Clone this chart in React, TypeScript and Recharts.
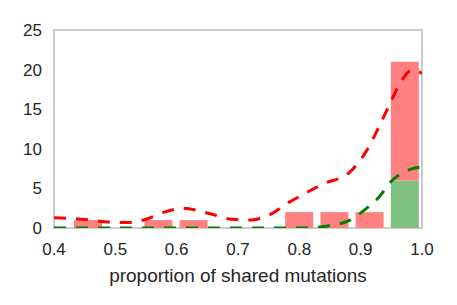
import {
    ComposedChart,
    Bar,
    Line,
    XAxis,
    YAxis,
    ReferenceArea
} from 'recharts';

// histogram bins (centers) and counts for each group
const binCenters = [0.4544, 0.5118, 0.5692, 0.6266, 0.684, 0.7414, 0.7988, 0.8563, 0.9137, 0.9711];
const greenCounts = [0, 0, 0, 0, 0, 0, 0, 0, 0, 6];
const redCounts = [1, 0, 1, 1, 0, 0, 2, 2, 2, 15]; // stacked above green

// density curves (scaled to counts)
const kdeX = [0.4, 0.43, 0.46, 0.49, 0.52, 0.55, 0.58, 0.61, 0.65, 0.69, 0.72, 0.75, 0.78, 0.81, 0.84, 0.88, 0.91, 0.93, 0.95, 0.965, 0.985, 1.0];
const redKde = [1.3, 1.2, 1.0, 0.75, 0.7, 1.1, 2.0, 2.5, 1.9, 1.1, 1.0, 1.6, 3.1, 4.4, 5.6, 6.9, 9.8, 12.8, 16.1, 18.4, 20.0, 19.5];
const greenKde = [0, 0, 0, 0, 0, 0, 0, 0, 0, 0, 0, 0, 0, 0, 0.2, 0.9, 2.5, 3.9, 5.9, 6.8, 7.5, 7.7];

const xTicks = [0.4, 0.5, 0.6, 0.7, 0.8, 0.9, 1.0];
const yTicks = [0, 5, 10, 15, 20, 25];

const bars = binCenters.map((x, i) => ({ bin: x.toFixed(4), green: greenCounts[i], red: redCounts[i] }));
const redLine = kdeX.map((x, i) => ({ x, y: redKde[i] }));
const greenLine = kdeX.map((x, i) => ({ x, y: greenKde[i] }));

const font = '"Liberation Sans", Arial, sans-serif';
const tickStyle = { fill: '#262626', fontSize: 17, fontFamily: font };

export default function App() {
    return (
        <div style={{ position: 'absolute', left: 0, top: 0, width: 457, height: 305 }}>
            <ComposedChart
                width={457}
                height={305}
                data={bars}
                margin={{ top: 30, right: 35, left: 0, bottom: 0 }}
            >
                {/* numeric axis for the density curves */}
                <XAxis
                    xAxisId="num"
                    dataKey="x"
                    type="number"
                    domain={[0.4, 1.0]}
                    ticks={xTicks}
                    allowDataOverflow
                    tickFormatter={(v: number) => v.toFixed(1)}
                    axisLine={false}
                    tickLine={false}
                    tick={tickStyle}
                    tickMargin={9}
                    height={77}
                    label={{
                        value: 'proportion of shared mutations',
                        position: 'insideBottom',
                        offset: 23,
                        style: { fill: '#262626', fontSize: 19, fontFamily: font }
                    }}
                />
                {/* hidden band axis for the histogram bins (first bin starts at 0.4257) */}
                <XAxis
                    xAxisId="bins"
                    dataKey="bin"
                    type="category"
                    orientation="top"
                    height={0}
                    hide
                    padding={{ left: 16, right: 0 }}
                />
                <YAxis
                    type="number"
                    domain={[0, 25]}
                    ticks={yTicks}
                    allowDataOverflow
                    axisLine={false}
                    tickLine={false}
                    tick={tickStyle}
                    tickMargin={6}
                    width={54}
                />
                <Bar xAxisId="bins" dataKey="green" stackId="h" fill="#80c080" barSize={28} isAnimationActive={false} />
                <Bar xAxisId="bins" dataKey="red" stackId="h" fill="#ff8080" barSize={28} isAnimationActive={false} />
                <Line
                    xAxisId="num"
                    data={redLine}
                    dataKey="y"
                    type="monotone"
                    stroke="#ff0000"
                    strokeWidth={3}
                    strokeDasharray="12 10"
                    dot={false}
                    isAnimationActive={false}
                />
                <Line
                    xAxisId="num"
                    data={greenLine}
                    dataKey="y"
                    type="monotone"
                    stroke="#008000"
                    strokeWidth={3}
                    strokeDasharray="12 10"
                    dot={false}
                    isAnimationActive={false}
                />
                <ReferenceArea
                    xAxisId="num"
                    x1={0.4}
                    x2={1.0}
                    y1={0}
                    y2={25}
                    fill="none"
                    stroke="#cccccc"
                    strokeWidth={2}
                    ifOverflow="visible"
                />
            </ComposedChart>
        </div>
    );
}
